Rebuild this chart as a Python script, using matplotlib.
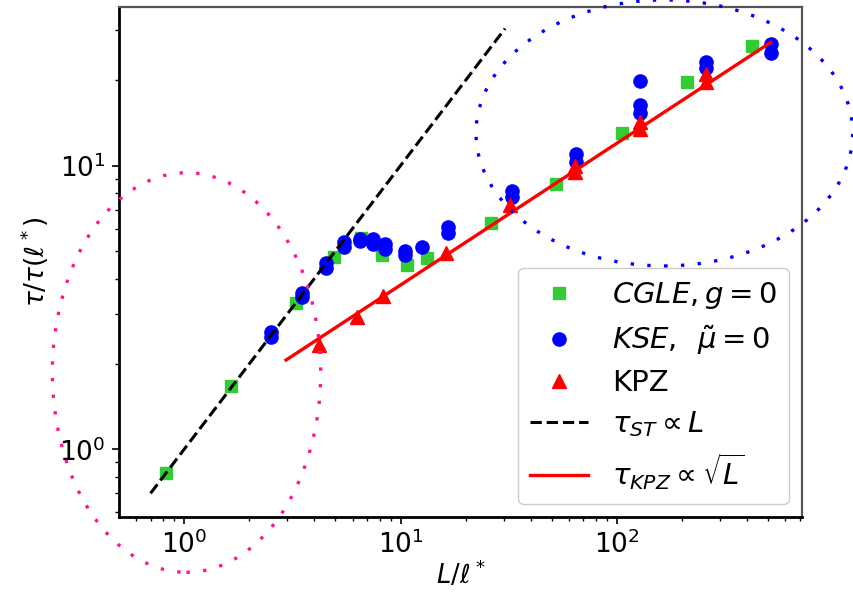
import matplotlib
matplotlib.use("Agg")
import numpy as np
import matplotlib.pyplot as plt
from matplotlib.patches import Ellipse
from matplotlib.ticker import NullFormatter

# CGLE, g = 0
cgle_x = [0.823, 1.65, 3.29, 4.93, 6.6, 8.24, 10.75, 13.2, 26.2, 52.3, 105.5, 210.0, 422.0]
cgle_y = [0.827, 1.67, 3.28, 4.77, 5.55, 4.84, 4.46, 4.71, 6.29, 8.61, 13.0, 19.7, 26.4]

# KSE, mu~ = 0 (several runs per system size)
kse_x = [2.51, 2.51, 3.50, 3.50, 4.53, 4.53, 5.50, 5.50, 6.50, 6.50,
         7.49, 7.49, 8.45, 8.45, 10.5, 10.5, 12.53, 16.5, 16.5,
         32.6, 32.6, 64.5, 64.5, 127.7, 127.7, 127.7, 257.0, 257.0, 513.0, 513.0]
kse_y = [2.60, 2.48, 3.56, 3.45, 4.52, 4.35, 5.39, 5.18, 5.52, 5.42,
         5.51, 5.29, 5.29, 5.08, 5.01, 4.84, 5.18, 6.06, 5.77,
         8.16, 7.77, 10.99, 10.3, 19.9, 16.35, 15.28, 23.1, 22.0, 26.8, 24.9]

# KPZ
kpz_x = [4.22, 6.3, 8.27, 16.3, 32.0, 64.0, 64.0, 127.6, 127.6, 257.0, 257.0]
kpz_y = [2.33, 2.93, 3.47, 4.93, 7.28, 10.0, 9.5, 14.25, 13.46, 21.1, 19.7]

# scaling laws
st_x = np.array([0.70, 30.4])           # tau_ST ~ L
kpz_fit_x = np.array([2.96, 513.0])     # tau_KPZ ~ sqrt(L)
kpz_prefactor = 1.2

fig = plt.figure(figsize=(8.54, 5.92), dpi=100)
ax = fig.add_axes([119.3 / 854, 1 - 516.7 / 592, 682.4 / 854, 510 / 592])

ax.plot(cgle_x, cgle_y, 's', color='#33cc33', markersize=9, linestyle='none',
        label=r'$CGLE, g=0$')
ax.plot(kse_x, kse_y, 'o', color='#0000ff', markersize=9.5, linestyle='none',
        label=r'$KSE,\ \,\tilde{\mu}=0$')
ax.plot(kpz_x, kpz_y, '^', color='#ff0000', markersize=10, linestyle='none',
        label='KPZ')
ax.plot(st_x, st_x, '--', color='black', lw=2.2, label=r'$\tau_{ST} \propto L$')
ax.plot(kpz_fit_x, kpz_prefactor * np.sqrt(kpz_fit_x), '-', color='#ff0000', lw=2.4,
        label=r'$\tau_{KPZ} \propto \sqrt{L}$')

ax.set_xscale('log')
ax.set_yscale('log')
ax.set_xlim(0.502, 713)
ax.set_ylim(0.579, 36.3)
ax.xaxis.set_minor_formatter(NullFormatter())
ax.yaxis.set_minor_formatter(NullFormatter())

ax.tick_params(which='major', length=5, width=1.2, labelsize=19, pad=5)
ax.tick_params(which='minor', length=3, width=1.0)

for side in ('left', 'bottom'):
    ax.spines[side].set_linewidth(2.0)
    ax.spines[side].set_color('black')
for side in ('top', 'right'):
    ax.spines[side].set_linewidth(1.6)
    ax.spines[side].set_color('#555555')

ax.set_xlabel(r'$L/\ell^*$', fontsize=18.5, labelpad=0)
ax.set_ylabel(r'$\tau/\tau(\ell^*)$', fontsize=19, labelpad=6)

# dotted regions highlighting the two regimes
ax.add_patch(Ellipse((0.0985, 0.2827), 0.3933, 0.7835, transform=ax.transAxes,
                     fill=False, edgecolor='#ff1493', lw=2.4,
                     linestyle=(0, (1, 4.0)), clip_on=False, zorder=5))
ax.add_patch(Ellipse((0.7987, 0.7524), 0.552, 0.5216, transform=ax.transAxes,
                     fill=False, edgecolor='#0000ff', lw=2.4,
                     linestyle=(0, (1, 4.0)), clip_on=False, zorder=5))

leg = ax.legend(loc='lower right', fontsize=21, frameon=True, fancybox=True,
                framealpha=1.0, edgecolor='#cccccc', handlelength=2.0,
                labelspacing=0.42, borderaxespad=0.45)
leg.set_zorder(6)

fig.savefig('out.png', dpi=100)
